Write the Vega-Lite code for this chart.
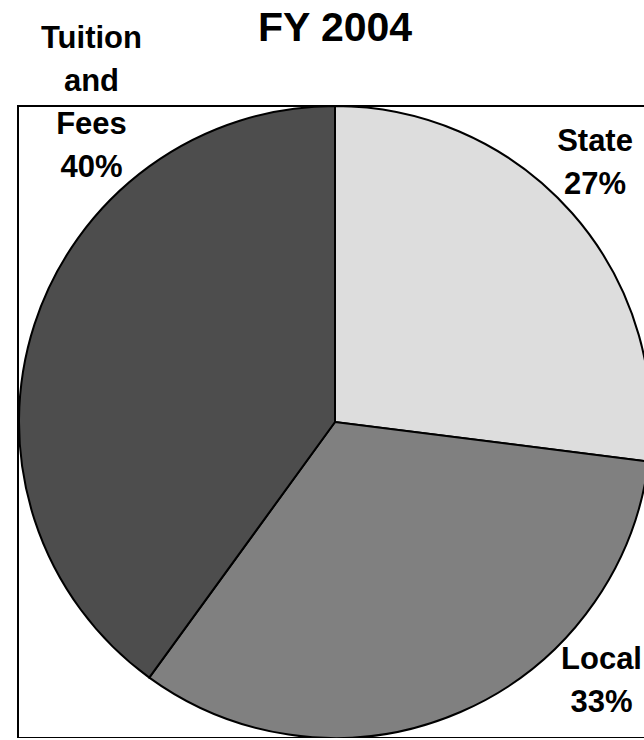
{
  "$schema": "https://vega.github.io/schema/vega-lite/v6.json",
  "width": 634,
  "height": 632,
  "autosize": {"type": "none"},
  "padding": {"left": 18, "top": 106, "right": 0, "bottom": 0},
  "background": "white",
  "view": {"stroke": "black", "strokeWidth": 2},
  "title": {
    "text": "FY 2004",
    "fontSize": 41,
    "font": "Liberation Sans",
    "fontWeight": "bold",
    "color": "black",
    "anchor": "middle",
    "baseline": "alphabetic",
    "offset": -59
  },
  "config": {"view": {"stroke": "black", "strokeWidth": 2}},
  "data": {
    "values": [
      {"source": "State", "pct": 27, "label": "State 27%", "order": 1},
      {"source": "Local", "pct": 33, "label": "Local 33%", "order": 2},
      {"source": "Tuition and Fees", "pct": 40, "label": "Tuition and Fees 40%", "order": 3}
    ]
  },
  "encoding": {
    "theta": {"field": "pct", "type": "quantitative", "stack": true},
    "order": {"field": "order", "type": "quantitative"}
  },
  "layer": [
    {
      "mark": {"type": "arc", "outerRadius": 316, "stroke": "black", "strokeWidth": 2},
      "encoding": {
        "color": {
          "field": "source",
          "type": "nominal",
          "scale": {
            "domain": ["State", "Local", "Tuition and Fees"],
            "range": ["#dddddd", "#808080", "#4d4d4d"]
          },
          "legend": null
        }
      }
    },
    {
      "mark": {
        "type": "text",
        "radius": 316,
        "font": "Liberation Sans",
        "fontWeight": "bold",
        "fontSize": 31,
        "lineBreak": " ",
        "lineHeight": 43,
        "align": "center",
        "baseline": "middle",
        "color": "black",
        "dx": {"expr": "datum.source === 'State' ? 23 : datum.source === 'Local' ? 141 : 57"},
        "dy": {"expr": "datum.source === 'State' ? -71 : datum.source === 'Local' ? -52 : -285"}
      },
      "encoding": {"text": {"field": "label"}}
    }
  ]
}
